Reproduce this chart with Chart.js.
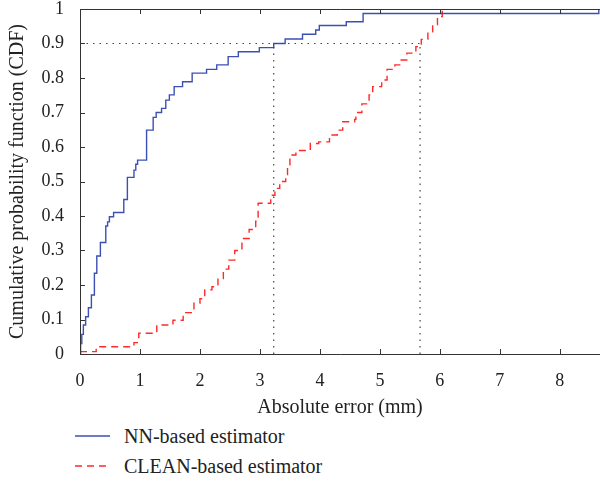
<!DOCTYPE html>
<html>
<head>
<meta charset="utf-8">
<script src="https://cdn.jsdelivr.net/npm/chart.js@4"></script>
<style>
  body { margin: 0; background: #fff; font-family: "Liberation Serif", serif; }
  #wrap { position: relative; width: 600px; height: 491px; }
  .legend { position: absolute; left: 75px; font-size: 20px; color: #222; }
  .legend div { height: 30px; display: flex; align-items: center; }
  .legend svg { margin-right: 14px; }
</style>
</head>
<body>
<div id="wrap">
  <canvas id="chartCanvas" width="600" height="420"></canvas>
  <div class="legend" style="top:421px">
    <div><svg width="35" height="4"><line x1="0" y1="2" x2="35" y2="2" stroke="#3c50b4" stroke-width="1.4"/></svg>NN-based estimator</div>
    <div><svg width="35" height="4"><line x1="0" y1="2" x2="35" y2="2" stroke="#ff2a2a" stroke-width="1.4" stroke-dasharray="7,5"/></svg>CLEAN-based estimator</div>
  </div>
</div>
<script>
// step CDF: x where the curve jumps, y level after the jump
const nnX = [0, 0.01, 0.03, 0.056, 0.094, 0.14, 0.19, 0.24, 0.28, 0.34, 0.43, 0.46, 0.49, 0.56, 0.73, 0.79, 0.9, 0.93, 0.96, 1.11, 1.22, 1.27, 1.36, 1.43, 1.49, 1.57, 1.71, 1.87, 2.11, 2.28, 2.47, 2.64, 2.99, 3.23, 3.42, 3.71, 3.93, 3.99, 4.44, 4.72, 8.65];
const nnY = [0, 0.03, 0.057, 0.084, 0.108, 0.134, 0.171, 0.234, 0.284, 0.323, 0.371, 0.383, 0.398, 0.41, 0.448, 0.512, 0.533, 0.55, 0.562, 0.649, 0.686, 0.70, 0.712, 0.736, 0.751, 0.775, 0.789, 0.814, 0.825, 0.838, 0.862, 0.876, 0.888, 0.90, 0.913, 0.927, 0.939, 0.952, 0.963, 0.987, 1.0];

const cleanX = [0, 0.27, 0.9, 0.98, 1.28, 1.55, 1.72, 1.9, 2.0, 2.08, 2.2, 2.3, 2.39, 2.48, 2.58, 2.7, 2.82, 2.93, 2.97, 3.18, 3.25, 3.33, 3.43, 3.46, 3.5, 3.6, 3.84, 3.98, 4.16, 4.29, 4.38, 4.58, 4.6, 4.7, 4.82, 4.88, 5.03, 5.12, 5.25, 5.33, 5.45, 5.6, 5.69, 5.8, 5.88, 5.96, 6.04];
const cleanY = [0.007, 0.021, 0.033, 0.06, 0.084, 0.098, 0.12, 0.147, 0.16, 0.186, 0.195, 0.219, 0.246, 0.272, 0.30, 0.335, 0.361, 0.385, 0.437, 0.46, 0.48, 0.5, 0.52, 0.545, 0.577, 0.59, 0.61, 0.615, 0.635, 0.649, 0.673, 0.68, 0.70, 0.725, 0.751, 0.775, 0.794, 0.825, 0.838, 0.852, 0.872, 0.891, 0.912, 0.934, 0.954, 0.978, 1.0];

// 90% guide lines
const guideLevel = 0.9;
const guideX = [3.23, 5.67];

const xTicks = [0, 1, 2, 3, 4, 5, 6, 7, 8];
const xMax = 8.67;

const toPts = (xs, ys) => xs.map((x, i) => ({ x: x, y: ys[i] }));

const guideDatasets = [
  { data: [{ x: 0, y: guideLevel }, { x: guideX[1], y: guideLevel }] },
  { data: [{ x: guideX[0], y: 0 }, { x: guideX[0], y: guideLevel }] },
  { data: [{ x: guideX[1], y: 0 }, { x: guideX[1], y: guideLevel }] }
].map(d => Object.assign(d, {
  borderColor: "#444", borderWidth: 1.2, borderDash: [1.5, 5], pointRadius: 0, fill: false
}));

// frame + inward tick marks
const framePlugin = {
  id: "frame",
  afterDatasetsDraw(chart) {
    const { ctx, chartArea: a, scales } = chart;
    ctx.save();
    ctx.strokeStyle = "#333";
    ctx.lineWidth = 1;
    ctx.beginPath();
    ctx.moveTo(a.right, a.top + 0.5);
    ctx.lineTo(a.left + 0.5, a.top + 0.5);
    ctx.lineTo(a.left + 0.5, a.bottom + 0.5);
    ctx.lineTo(a.right, a.bottom + 0.5);
    xTicks.forEach(v => {
      const px = Math.round(scales.x.getPixelForValue(v)) + 0.5;
      ctx.moveTo(px, a.bottom); ctx.lineTo(px, a.bottom - 5);
      ctx.moveTo(px, a.top); ctx.lineTo(px, a.top + 5);
    });
    scales.y.ticks.forEach(t => {
      const py = Math.round(scales.y.getPixelForValue(t.value)) + 0.5;
      ctx.moveTo(a.left, py); ctx.lineTo(a.left + 5, py);
    });
    ctx.stroke();
    ctx.restore();
  }
};

new Chart("chartCanvas", {
  type: "line",
  data: {
    datasets: [
      ...guideDatasets,
      {
        label: "NN-based estimator",
        data: toPts(nnX, nnY),
        borderColor: "#3c50b4", borderWidth: 1.4, stepped: true, pointRadius: 0, fill: false
      },
      {
        label: "CLEAN-based estimator",
        data: toPts(cleanX, cleanY),
        borderColor: "#ff2a2a", borderWidth: 1.4, borderDash: [7, 5], stepped: true, pointRadius: 0, fill: false
      }
    ]
  },
  options: {
    responsive: false,
    animation: false,
    devicePixelRatio: 1,
    layout: { autoPadding: false, padding: { top: 9, right: 0, left: 0, bottom: 0 } },
    plugins: { legend: { display: false }, tooltip: { enabled: false } },
    scales: {
      x: {
        type: "linear",
        min: 0, max: xMax,
        afterBuildTicks: s => { s.ticks = xTicks.map(v => ({ value: v })); },
        grid: { display: false, drawTicks: false },
        border: { display: false },
        ticks: { color: "#222", padding: 16, font: { family: "Liberation Serif", size: 18 } },
        title: { display: true, text: "Absolute error (mm)", color: "#222", padding: { top: 0, bottom: 0 }, font: { family: "Liberation Serif", size: 20 } },
        afterFit: s => { s.height = 66; s.paddingLeft = 0; s.paddingRight = 0; }
      },
      y: {
        min: 0, max: 1,
        ticks: {
          stepSize: 0.1, color: "#222", padding: 16,
          font: { family: "Liberation Serif", size: 18 },
          callback: v => String(+v.toFixed(1))
        },
        grid: { display: false, drawTicks: false },
        border: { display: false },
        title: { display: true, text: "Cumulative probability function (CDF)", color: "#222", padding: { top: 6, bottom: 0 }, font: { family: "Liberation Serif", size: 20 } },
        afterFit: s => { s.width = 80; s.paddingTop = 0; s.paddingBottom = 0; }
      }
    }
  },
  plugins: [framePlugin]
});
</script>
</body>
</html>
